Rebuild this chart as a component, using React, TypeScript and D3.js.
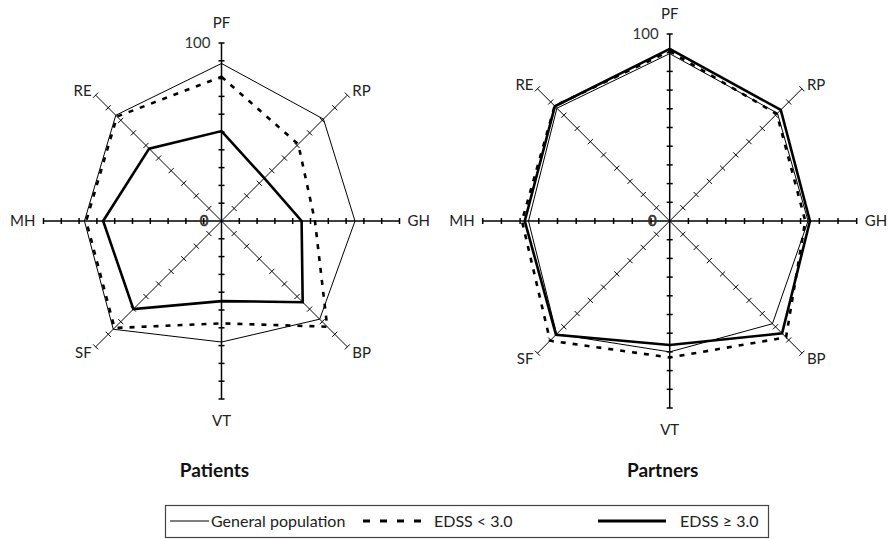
import React, { useEffect, useRef } from "react";
import * as d3 from "d3";

// SF-36 domains, clockwise from the top
const axes = ["PF", "RP", "GH", "BP", "VT", "SF", "MH", "RE"];
const seriesNames = ["General population", "EDSS < 3.0", "EDSS \u2265 3.0"];

// Patients panel
const patientsGeneral = [88.5, 81, 75, 78, 68, 86, 77, 84];
const patientsLow = [81, 61, 52.5, 84, 57.5, 85, 76, 83];
const patientsHigh = [50.5, 34, 45, 64.5, 45, 70, 66.5, 57.5];

// Partners panel
const partnersGeneral = [89.5, 81.5, 74, 77.7, 70, 85.5, 75.5, 85.3];
const partnersLow = [90.8, 81, 72.5, 88, 73, 90.5, 79, 87];
const partnersHigh = [92, 84, 75, 85, 66.3, 86, 77.5, 86.8];

const tickValues = [10, 20, 30, 40, 50, 60, 70, 80, 90, 100];

const W = 888;
const H = 539;
const FONT = "Lato, 'Open Sans', sans-serif";

// line styles for the three groups
const styles = [
  { width: 1, dash: null },
  { width: 2.6, dash: "5,7" },
  { width: 2.6, dash: null },
];

const drawRadar = (g, cx, cy, radius, title, series) => {
  const r = d3.scaleLinear().domain([0, 100]).range([0, radius]);
  const step = (2 * Math.PI) / axes.length;
  const panel = g.append("g").attr("transform", `translate(${cx},${cy})`);

  // axes with cross ticks
  axes.forEach((name, i) => {
    const a = i * step;
    const ux = Math.sin(a);
    const uy = -Math.cos(a);
    const straight = i % 2 === 0;
    const sw = straight ? 1.5 : 1;
    panel.append("line")
      .attr("x1", 0).attr("y1", 0)
      .attr("x2", ux * r(100)).attr("y2", uy * r(100))
      .attr("stroke", "#000").attr("stroke-width", sw);
    const half = straight ? 3 : 3.6;
    panel.selectAll(null)
      .data(tickValues)
      .join("line")
      .attr("x1", (v) => ux * r(v) - uy * half)
      .attr("y1", (v) => uy * r(v) + ux * half)
      .attr("x2", (v) => ux * r(v) + uy * half)
      .attr("y2", (v) => uy * r(v) - ux * half)
      .attr("stroke", "#000").attr("stroke-width", sw);

    // axis label
    const ex = ux * r(100);
    const ey = uy * r(100);
    let lx = ex, ly = ey, anchor = "middle";
    if (i === 0) { ly = ey - 20; }
    else if (i === 4) { ly = ey + 22; }
    else if (i === 2) { lx = ex + 8; anchor = "start"; }
    else if (i === 6) { lx = ex - 8; anchor = "end"; }
    else {
      lx = ex + (ux > 0 ? 5 : -4);
      ly = ey + (uy > 0 ? 6 : -4);
      anchor = ux > 0 ? "start" : "end";
    }
    panel.append("text")
      .attr("x", lx).attr("y", ly)
      .attr("dy", "0.35em")
      .attr("text-anchor", anchor)
      .attr("font-family", FONT).attr("font-size", 15)
      .attr("fill", "#222")
      .text(name);
  });

  panel.append("text")
    .attr("x", -11).attr("y", -r(100)).attr("dy", "0.35em")
    .attr("text-anchor", "end")
    .attr("font-family", FONT).attr("font-size", 15).attr("fill", "#333")
    .text("100");
  panel.append("text")
    .attr("x", -13).attr("y", 0).attr("dy", "0.35em")
    .attr("text-anchor", "end")
    .attr("font-family", FONT).attr("font-size", 15).attr("fill", "#333")
    .attr("stroke", "#333").attr("stroke-width", 0.6)
    .text("0");

  const radial = d3.lineRadial()
    .angle((d, i) => i * step)
    .radius((d) => r(d))
    .curve(d3.curveLinearClosed);

  series.forEach((vals, k) => {
    panel.append("path")
      .attr("d", radial(vals))
      .attr("fill", "none")
      .attr("stroke", "#000")
      .attr("stroke-width", styles[k].width)
      .attr("stroke-linejoin", "miter")
      .attr("stroke-dasharray", styles[k].dash);
  });

  g.append("text")
    .attr("x", cx - 7).attr("y", 477)
    .attr("text-anchor", "middle")
    .attr("font-family", FONT).attr("font-size", 19).attr("font-weight", "bold")
    .attr("fill", "#111")
    .text(title);
};

const App = () => {
  const svgRef = useRef();

  useEffect(() => {
    const svg = d3.select(svgRef.current);
    svg.selectAll("*").remove();
    const g = svg.append("g");

    drawRadar(g, 221.5, 221, 178, "Patients", [patientsGeneral, patientsLow, patientsHigh]);
    drawRadar(g, 669.7, 221, 187, "Partners", [partnersGeneral, partnersLow, partnersHigh]);

    // legend
    const lg = g.append("g");
    lg.append("rect")
      .attr("x", 165.5).attr("y", 505.5)
      .attr("width", 603).attr("height", 32)
      .attr("fill", "none").attr("stroke", "#444").attr("stroke-width", 1.2);
    const items = [
      { x1: 170, x2: 209, tx: 211 },
      { x1: 363, x2: 422, tx: 434 },
      { x1: 598, x2: 666, tx: 680 },
    ];
    items.forEach((it, k) => {
      lg.append("line")
        .attr("x1", it.x1).attr("x2", it.x2)
        .attr("y1", 521).attr("y2", 521)
        .attr("stroke", "#000")
        .attr("stroke-width", k === 0 ? 1.2 : 3.2)
        .attr("stroke-dasharray", k === 1 ? "7,10" : null);
      lg.append("text")
        .attr("x", it.tx).attr("y", 521).attr("dy", "0.35em")
        .attr("font-family", FONT).attr("font-size", 16)
        .attr("fill", "#222")
        .text(seriesNames[k]);
    });
  }, []);

  return (
    <svg
      ref={svgRef}
      width={W}
      height={H}
      style={{ position: "absolute", left: 0, top: 0, background: "#fff" }}
    />
  );
};

export default App;
